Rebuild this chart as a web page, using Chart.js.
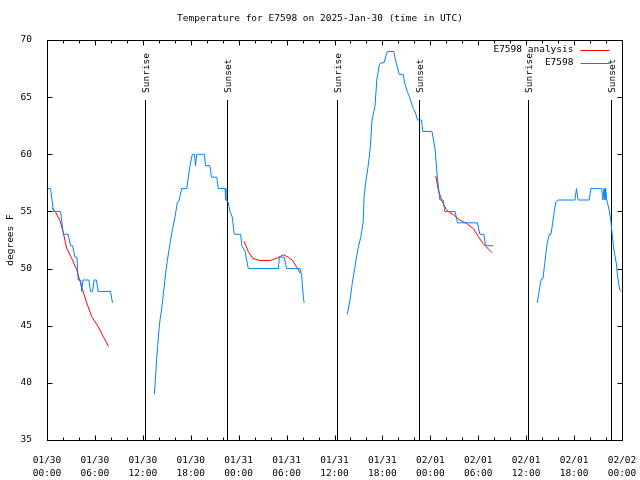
<!DOCTYPE html>
<html>
<head>
<meta charset="utf-8">
<script src="https://cdn.jsdelivr.net/npm/chart.js@4.4.1/dist/chart.umd.min.js"></script>
<style>
  html, body { margin: 0; padding: 0; background: #fff; }
  canvas { display: block; }
</style>
</head>
<body>
<canvas id="myChart" width="640" height="480"></canvas>
<script>
const chartTitle = "Temperature for E7598 on 2025-Jan-30 (time in UTC)";
const yTitle = "degrees F";

// x axis: hours since 01/30 00:00 UTC
const xTickDates = ["01/30", "01/30", "01/30", "01/30", "01/31", "01/31", "01/31", "01/31", "02/01", "02/01", "02/01", "02/01", "02/02"];
const xTickTimes = ["00:00", "06:00", "12:00", "18:00", "00:00", "06:00", "12:00", "18:00", "00:00", "06:00", "12:00", "18:00", "00:00"];

const sunHours = [12.27, 22.54, 36.27, 46.57, 60.25, 70.6];
const sunLabels = ["Sunrise", "Sunset", "Sunrise", "Sunset", "Sunrise", "Sunset"];

// station observations (null = gap in the record)
const obsHours = [
  0, 0.45, 0.8, 1.7, 2.05, 2.65, 2.95, 3.2, 3.5, 3.75, 3.9, 4.2, 4.35, 4.5, 5.25, 5.45, 5.7, 5.9, 6.2, 6.4, 7.95, 8.2,
  10,
  13.44, 13.6, 13.7, 13.86, 13.98, 14.15, 14.36, 14.56, 14.86, 15.07, 15.4, 15.7, 16.03, 16.3, 16.56, 16.86, 17.5, 17.7, 17.9,
  18.2, 18.45, 18.6, 18.75, 19.7, 19.85, 20.4, 20.6, 21.25, 21.45, 22.29, 22.4, 22.7, 22.9, 23.2, 23.45, 24.25, 24.4, 24.8,
  25.2, 28.97, 29.1, 29.7, 30.0, 31.7, 31.9, 32.0, 32.1, 32.2,
  35,
  37.6, 37.94, 38.2, 38.57, 38.9, 39.3, 39.6, 39.7, 39.9, 40.2, 40.5, 40.7, 41.07, 41.3, 41.6, 41.8, 42.2, 42.6, 43.4, 43.6,
  43.8, 44.1, 44.6, 44.8, 45.1, 45.4, 45.87, 46.1, 46.4, 46.9, 47.05, 48.2, 48.4, 48.6, 48.8, 49.0, 49.2, 49.6, 49.8, 51.1,
  51.4, 53.9, 54.2, 54.7, 54.9, 55.9,
  58,
  61.4, 61.6, 61.8, 61.95, 62.1, 62.3, 62.5, 62.65, 62.9, 63.1, 63.3, 63.5, 63.7, 63.95, 66.1, 66.3, 66.5, 67.9, 68.1, 69.45,
  69.6, 69.75, 69.85, 69.95, 70.1, 70.4, 70.6, 70.8, 71.0, 71.3, 71.45, 71.7, 71.9
];
const obsTemps = [
  57, 57, 55, 55, 53, 53, 52, 52, 51, 51, 49, 49, 48, 49, 49, 48, 48, 49, 49, 48, 48, 47,
  null,
  39, 40.6, 41.8, 43.2, 44.3, 45.5, 46.5, 47.7, 49.6, 50.7, 52.2, 53.4, 54.5, 55.7, 56, 57, 57, 58, 59,
  60, 60, 59, 60, 60, 59, 59, 58, 58, 57, 57, 56, 55.8, 55, 54.5, 53, 53, 52, 51.5,
  50, 50, 51, 51, 50, 50, 49.3, 48.4, 47.5, 47,
  null,
  46, 47.25, 48.6, 50.2, 51.6, 52.8, 54.1, 56.3, 57.5, 58.9, 60.7, 63, 64.2, 66.5, 67.8, 68, 68, 69, 69, 68.4,
  67.8, 67, 67, 66.2, 65.5, 65, 64, 63.7, 63, 63, 62, 62, 61.25, 60.4, 58.6, 57.2, 56, 56, 55, 55,
  54, 54, 53, 53, 52, 52,
  null,
  47, 47.9, 48.8, 49.1, 49.1, 50.3, 51.5, 52.3, 53, 53, 53.9, 54.9, 55.8, 56, 56, 57, 56, 56, 57, 57,
  56, 57, 56, 57, 56, 55.1, 54.2, 52.8, 51.6, 50.4, 49.3, 48.2, 48
];

// analysis series
const anaHours = [
  0.67, 1.1, 1.63, 2.05, 2.46, 3.09, 3.72, 4.34, 4.97, 5.6, 6.43, 7.0, 7.7,
  10,
  24.67, 25.2, 25.75, 26.67, 27.9, 28.76, 29.6, 30.2, 30.76, 31.2, 31.7,
  35,
  48.67, 49.0, 49.4, 50.05, 50.9, 51.7, 52.55, 53.4, 54.0, 54.6, 55.7
];
const anaTemps = [
  55.3, 54.9, 54.2, 53.1, 51.8, 50.9, 49.9, 48.4, 47.0, 45.8, 44.9, 44.1, 43.2,
  null,
  52.4, 51.5, 50.9, 50.7, 50.7, 50.9, 51.2, 51.0, 50.7, 50.2, 49.6,
  null,
  58.1, 56.9, 56.0, 55.1, 54.7, 54.25, 53.95, 53.5, 52.8, 52.2, 51.4
];

const monoFont = { family: '"DejaVu Sans Mono", monospace', size: 9.5 };
const fontStr = '9.5px "DejaVu Sans Mono", monospace';

const ctx = document.getElementById("myChart");

// gnuplot-like frame, ticks, sun lines, key and title
const gnuplotFrame = {
  id: "gnuplotFrame",
  beforeDatasetsDraw(chart) {
    const { ctx, chartArea: a, scales: { x } } = chart;
    ctx.save();
    ctx.strokeStyle = "#000";
    ctx.lineWidth = 1;
    ctx.fillStyle = "#000";
    ctx.font = fontStr;
    sunHours.forEach((h, i) => {
      const px = Math.round(x.getPixelForValue(h)) + 0.5;
      ctx.beginPath();
      ctx.moveTo(px, a.top + 60);
      ctx.lineTo(px, a.bottom);
      ctx.stroke();
      ctx.save();
      ctx.translate(px + 1, a.top + 53);
      ctx.rotate(-Math.PI / 2);
      ctx.textAlign = "left";
      ctx.textBaseline = "middle";
      ctx.fillText(sunLabels[i], 0, 0);
      ctx.restore();
    });
    ctx.restore();
  },
  afterDraw(chart) {
    const { ctx, chartArea: a, scales: { x, y } } = chart;
    ctx.save();
    ctx.strokeStyle = "#000";
    ctx.lineWidth = 1;
    const L = Math.round(a.left) + 0.5, R = Math.round(a.right) + 0.5;
    const T = Math.round(a.top) + 0.5, B = Math.round(a.bottom) + 0.5;
    ctx.strokeRect(L, T, R - L, B - T);

    ctx.beginPath();
    // x minor ticks every 2 hours, major every 6
    for (let h = x.min; h <= x.max; h += 2) {
      const px = Math.round(x.getPixelForValue(h)) + 0.5;
      const len = h % 6 === 0 ? 5 : 3;
      ctx.moveTo(px, B); ctx.lineTo(px, B - len);
      ctx.moveTo(px, T); ctx.lineTo(px, T + len);
    }
    y.ticks.forEach((t) => {
      const py = Math.round(y.getPixelForValue(t.value)) + 0.5;
      ctx.moveTo(L, py); ctx.lineTo(L + 5, py);
      ctx.moveTo(R, py); ctx.lineTo(R - 5, py);
    });
    ctx.stroke();

    // title
    ctx.fillStyle = "#000";
    ctx.font = fontStr;
    ctx.textAlign = "center";
    ctx.textBaseline = "middle";
    ctx.fillText(chartTitle, chart.width / 2, 19);

    // key
    const keyX = R - 49;
    chart.data.datasets.forEach((ds, i) => {
      const ky = T + 9 + i * 13.5;
      ctx.textAlign = "right";
      ctx.fillStyle = "#000";
      ctx.fillText(ds.label, keyX, ky);
      ctx.strokeStyle = ds.borderColor;
      ctx.beginPath();
      ctx.moveTo(keyX + 7, Math.round(ky) + 0.5);
      ctx.lineTo(keyX + 36, Math.round(ky) + 0.5);
      ctx.stroke();
    });
    ctx.restore();
  }
};

new Chart(ctx, {
  type: "line",
  data: {
    datasets: [
      {
        label: "E7598 analysis",
        data: anaHours.map((h, i) => ({ x: h, y: anaTemps[i] })),
        borderColor: "#ff0000",
        borderWidth: 1,
        pointRadius: 0,
        spanGaps: false,
        order: 1,
      },
      {
        label: "E7598",
        data: obsHours.map((h, i) => ({ x: h, y: obsTemps[i] })),
        borderColor: "#0080ff",
        borderWidth: 1,
        pointRadius: 0,
        spanGaps: false,
        order: 0,
      },
    ],
  },
  options: {
    responsive: false,
    animation: false,
    devicePixelRatio: 1,
    events: [],
    layout: {
      padding: { top: 40, right: 18, left: 0, bottom: 0 },
    },
    plugins: {
      legend: { display: false },
      tooltip: { enabled: false },
      title: { display: false },
    },
    scales: {
      x: {
        type: "linear",
        min: 0,
        max: 72,
        grid: { display: false },
        border: { display: false },
        afterFit: (scale) => {
          scale.height = 40;
          scale.paddingLeft = 0;
          scale.paddingRight = 0;
        },
        ticks: {
          stepSize: 6,
          autoSkip: false,
          maxRotation: 0,
          padding: 6,
          color: "#000",
          font: { ...monoFont, lineHeight: 1.35 },
          callback: (value) => {
            const i = Math.round(value / 6);
            return [xTickDates[i], xTickTimes[i]];
          },
        },
      },
      y: {
        min: 35,
        max: 70,
        grid: { display: false },
        border: { display: false },
        afterFit: (scale) => { scale.width = 47; },
        title: {
          display: true,
          text: yTitle,
          color: "#000",
          font: monoFont,
          padding: { top: 5, bottom: 0 },
        },
        ticks: {
          stepSize: 5,
          padding: 7,
          color: "#000",
          font: monoFont,
        },
      },
    },
  },
  plugins: [gnuplotFrame],
});
</script>
</body>
</html>
